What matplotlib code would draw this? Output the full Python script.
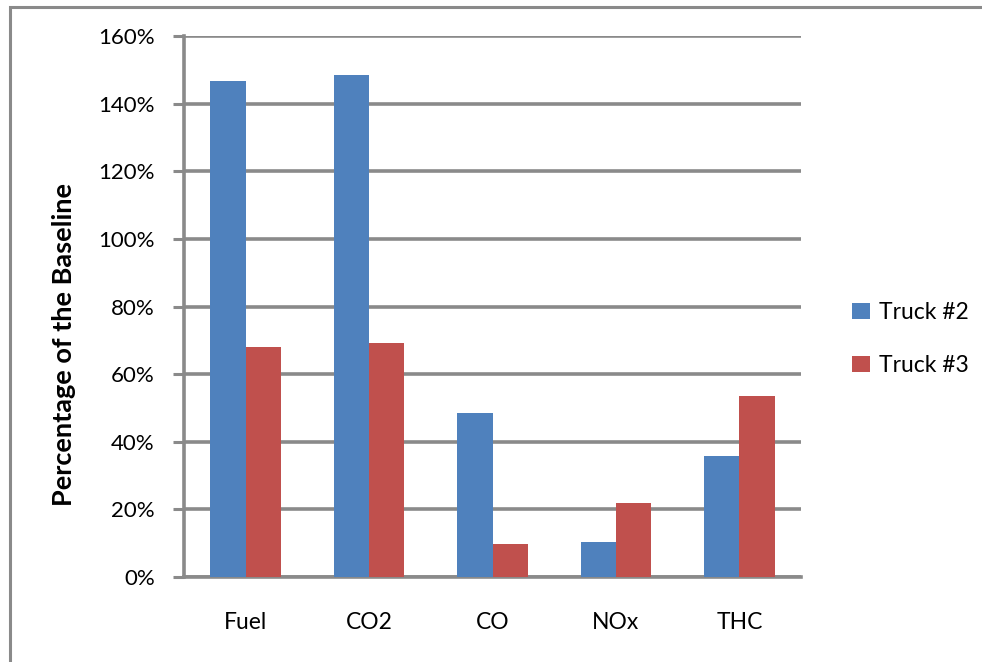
import matplotlib.pyplot as plt
from matplotlib.patches import Rectangle
import numpy as np

plt.rcParams['font.family'] = ['Lato', 'DejaVu Sans']

# emissions relative to baseline (%)
categories = ["Fuel", "CO2", "CO", "NOx", "THC"]
truck2 = [146.8, 148.5, 48.6, 10.4, 35.9]
truck3 = [67.9, 69.2, 9.8, 21.9, 53.4]
series_names = ["Truck #2", "Truck #3"]
y_ticks = [0, 20, 40, 60, 80, 100, 120, 140, 160]

blue = "#4f81bd"
red = "#c0504d"
grid_grey = "#8a8a8a"

fig = plt.figure(figsize=(9.82, 6.62), dpi=100)
ax = fig.add_axes([0.1874, 0.1284, 0.8157 - 0.1874, 0.9456 - 0.1284])

x = np.arange(len(categories))
w = 1 / 3.5
ax.bar(x - w / 2, truck2, width=w, color=blue, label=series_names[0], zorder=3)
ax.bar(x + w / 2, truck3, width=w, color=red, label=series_names[1], zorder=3)

ax.set_xlim(-0.5, len(categories) - 0.5)
ax.set_ylim(0, 160)
ax.set_yticks(y_ticks)
ax.set_yticklabels(["{}%".format(v) for v in y_ticks])
ax.set_xticks(x)
ax.set_xticklabels(categories)

ax.yaxis.grid(True, color=grid_grey, linewidth=2.6, zorder=0)
ax.set_axisbelow(True)
for side in ["top", "right", "bottom"]:
    ax.spines[side].set_visible(False)
ax.spines["left"].set_color(grid_grey)
ax.spines["left"].set_linewidth(2.6)
ax.axhline(0, color=grid_grey, linewidth=2.6, zorder=1, clip_on=False)

ax.tick_params(axis="y", length=8, width=2.2, color=grid_grey, pad=13, labelsize=16)
ax.tick_params(axis="x", length=0, pad=25, labelsize=16.5)

ax.set_ylabel("Percentage of the Baseline", fontsize=19.5, fontweight="bold", labelpad=16)
ax.yaxis.label.set_y(0.429)

ax.legend(loc="center left", bbox_to_anchor=(1.05, 0.44), frameon=False,
          fontsize=16.5, handlelength=0.75, handleheight=0.75, handletextpad=0.4,
          labelspacing=1.4)

# outer chart frame
fig.patches.append(Rectangle((10 / 982, -0.05), 1.0, 1 - 7 / 662 + 0.05,
                             transform=fig.transFigure, fill=False,
                             edgecolor=grid_grey, linewidth=2.2))

plt.savefig("out.png", dpi=100)
